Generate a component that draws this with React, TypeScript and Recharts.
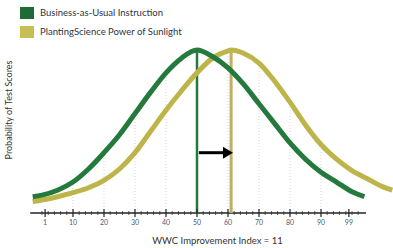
import React from 'react';
import { LineChart, Line, XAxis, YAxis, ReferenceLine, Legend } from 'recharts';

const greenX = [-3, 0, 5, 10, 15, 20, 25, 30, 35, 40, 45, 50, 55, 60, 65, 70, 75, 80, 85, 90, 95, 100, 104];
const greenY = [10, 11, 14, 19, 27, 37, 48, 61, 74, 86, 95, 100, 96, 89, 79, 67, 55, 43, 33, 25, 19, 13, 10];

const yellowX = [-3, 0, 5, 10, 15, 20, 25, 30, 35, 40, 45, 50, 55, 60, 61, 65, 70, 75, 80, 85, 90, 95, 100, 105, 110, 113];
const yellowY = [7, 8, 10, 12.5, 15.5, 20, 27, 37, 50, 63, 75, 86, 95, 99.5, 100, 98, 92, 81, 68, 54, 42, 33, 26, 21, 16, 14];

const tickLabels = [1, 10, 20, 30, 40, 50, 60, 70, 80, 90, 99];
const minorTicks = [0, 2, 4, 6, 8, 10, 12, 14, 16, 18, 20, 22, 24, 26, 28, 30, 32, 34, 36, 38, 40, 42, 44, 46, 48, 50, 52, 54, 56, 58, 60, 62, 64, 66, 68, 70, 72, 74, 76, 78, 80, 82, 84, 86, 88, 90, 92, 94, 96, 98, 100, 102];
const gridX = [10, 20, 30, 40, 60, 70, 80, 90];

const greenMean = 50;
const yellowMean = 61;
const arrowY = 37;

const seriesNames = ['Business-as-Usual Instruction', 'PlantingScience Power of Sunlight'];
const xTitle = 'WWC Improvement Index = 11';
const yTitle = 'Probability of Test Scores';

const GREEN = '#237a3c';
const YELLOW = '#bdb44a';
const FONT = 'Lato, "Open Sans", sans-serif';

const greenData = greenX.map((x, i) => ({ x, y: greenY[i] }));
const yellowData = yellowX.map((x, i) => ({ x, y: yellowY[i] }));
const allTicks = Array.from(new Set([...minorTicks, ...tickLabels])).sort((a, b) => a - b);

const lookup = (xs: number[], ys: number[], v: number) => {
  const i = xs.indexOf(v);
  return i >= 0 ? ys[i] : 0;
};

const AxisTick = (props: any) => {
  const { x, y, payload } = props;
  const v = payload.value;
  const major = tickLabels.includes(v);
  if (major) {
    return (
      <g>
        <line x1={x} x2={x} y1={y - 4} y2={y + 4} stroke="#222" strokeWidth={1.2} />
        <text x={x} y={y + 12} textAnchor="middle" fontSize={7} fill="#4a5a70" fontFamily={FONT}>
          {v}
        </text>
      </g>
    );
  }
  return <line x1={x} x2={x} y1={y - 2} y2={y + 2} stroke="#333" strokeWidth={0.8} />;
};

const ArrowShape = (p: any) => {
  const { x1, y1, x2, y2 } = p;
  if (x1 == null) return null;
  return (
    <g>
      <line x1={x1} y1={y1} x2={x2 - 8} y2={y2} stroke="#000" strokeWidth={3} />
      <polygon points={`${x2},${y2} ${x2 - 10},${y2 - 6} ${x2 - 10},${y2 + 6}`} fill="#000" />
    </g>
  );
};

const LegendContent = () => (
  <div style={{ fontFamily: FONT, fontSize: 9.5, color: '#2b3345', lineHeight: '12px' }}>
    {seriesNames.map((n, i) => (
      <div key={n} style={{ display: 'flex', alignItems: 'center', marginBottom: 7 }}>
        <span
          style={{
            display: 'inline-block',
            width: 14,
            height: 12,
            background: i === 0 ? '#1f6b36' : '#c6be55',
            marginRight: 6,
          }}
        />
        <span>{n}</span>
      </div>
    ))}
  </div>
);

const YLabel = () => (
  <text
    x={10}
    y={110}
    transform="rotate(-90 10 110)"
    textAnchor="middle"
    dominantBaseline="middle"
    fontSize={9}
    fill="#333"
    fontFamily={FONT}
  >
    {yTitle}
  </text>
);

export default function App() {
  return (
    <div style={{ position: 'absolute', left: 0, top: 0, background: '#fff' }}>
      <LineChart width={393} height={248} margin={{ top: 50, right: 0.7, left: 0, bottom: 0 }}>
        <XAxis
          dataKey="x"
          type="number"
          domain={[-3, 113]}
          ticks={allTicks}
          interval={0}
          tick={<AxisTick />}
          tickLine={false}
          axisLine={false}
          tickSize={0}
          tickMargin={0}
          height={35}
          label={{ value: xTitle, position: 'insideBottom', offset: 4, dx: 5, fontSize: 9.5, fill: '#333', fontFamily: FONT }}
        />
        <YAxis type="number" domain={[0, 100]} width={32.7} tick={false} axisLine={false} tickLine={false} label={<YLabel />} />
        {gridX.map((g) => (
          <ReferenceLine
            key={g}
            segment={[
              { x: g, y: 0 },
              { x: g, y: Math.max(lookup(greenX, greenY, g), lookup(yellowX, yellowY, g)) },
            ]}
            stroke="#d6d6d6"
            strokeDasharray="1 2"
            strokeWidth={1}
            ifOverflow="visible"
          />
        ))}
        <ReferenceLine
          segment={[
            { x: -3.8, y: 0 },
            { x: 104.5, y: 0 },
          ]}
          stroke="#222"
          strokeWidth={1.5}
          ifOverflow="visible"
        />
        <ReferenceLine
          segment={[
            { x: yellowMean, y: 0 },
            { x: yellowMean, y: 100 },
          ]}
          stroke="#c2ad62"
          strokeWidth={3}
          ifOverflow="visible"
        />
        <ReferenceLine
          segment={[
            { x: greenMean, y: 0 },
            { x: greenMean, y: 100 },
          ]}
          stroke={GREEN}
          strokeWidth={2.5}
          ifOverflow="visible"
        />
        <Line data={yellowData} dataKey="y" type="monotone" stroke={YELLOW} strokeWidth={5} dot={false} isAnimationActive={false} />
        <Line data={greenData} dataKey="y" type="monotone" stroke={GREEN} strokeWidth={5} dot={false} isAnimationActive={false} />
        <ReferenceLine
          segment={[
            { x: 50.6, y: arrowY },
            { x: 61.6, y: arrowY },
          ]}
          shape={<ArrowShape />}
          ifOverflow="visible"
        />
        <Legend
          layout="vertical"
          align="center"
          verticalAlign="middle"
          content={<LegendContent />}
          wrapperStyle={{ top: 7, left: 20, width: 'auto' }}
        />
      </LineChart>
    </div>
  );
}
